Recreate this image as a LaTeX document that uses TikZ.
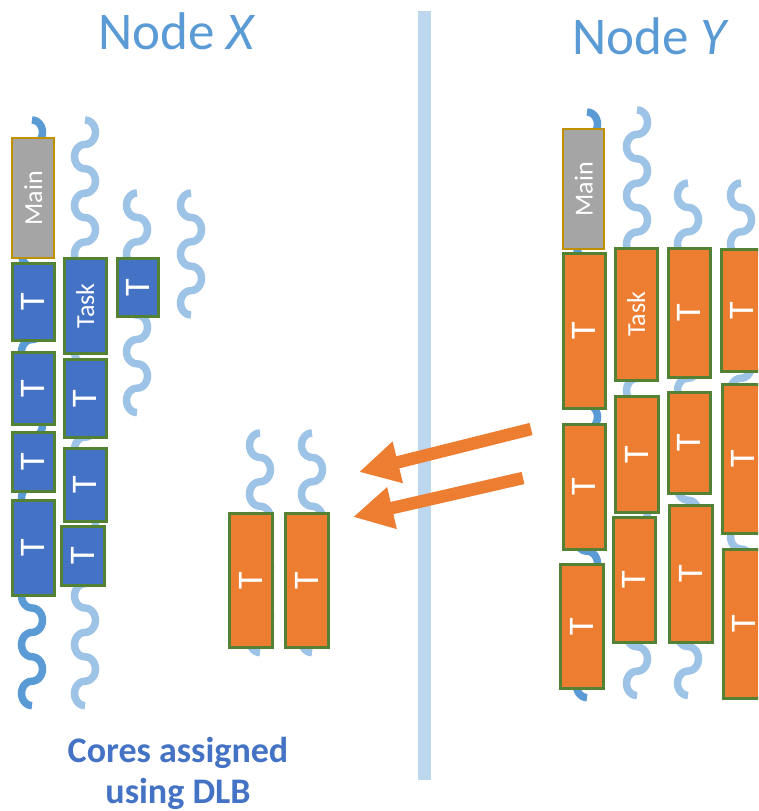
\documentclass[tikz,border=0pt]{standalone}
\usepackage{fontspec}
\setmainfont{Carlito}
\usepackage{graphicx}
\usetikzlibrary{arrows.meta}

\definecolor{boxBlue}{HTML}{4472C4}
\definecolor{boxOrange}{HTML}{ED7D31}
\definecolor{edgeGreen}{HTML}{548235}
\definecolor{mainGray}{HTML}{A5A5A5}
\definecolor{mainEdge}{HTML}{BF9000}
\definecolor{threadDark}{HTML}{5B9BD5}
\definecolor{threadLight}{HTML}{9DC3E6}
\definecolor{barBlue}{HTML}{BDD7EE}
\definecolor{titleBlue}{HTML}{5B9BD5}
\definecolor{captionBlue}{HTML}{4472C4}

% wave geometry: horizontal swing and height of one half-wave
\def\thrA{10.5}
\def\thrH{24.4}
% \thread{centre x}{top y}{half-waves}{first side +1/-1}{colour}
\newcommand\thread[5]{%
  \pgfmathsetmacro\thrEnd{#3*180}%
  \pgfmathtruncatemacro\thrSamp{#3*14+1}%
  \draw[thread,#5] plot[domain=0:\thrEnd, samples=\thrSamp, variable=\t]
    ({#1+#4*\thrA*sin(\t)}, {#2+\thrH*floor(\t/180)+0.5*\thrH*(1-cos(mod(\t,180)))});%
}
\newcommand\Tlbl{\rotatebox{90}{\fontsize{36}{36}\selectfont T}}
\newcommand\smallLbl[1]{\rotatebox{90}{\fontsize{26}{26}\selectfont #1}}

\begin{document}
\begin{tikzpicture}[x=1pt,y=-1pt,
  thread/.style={line width=7.5pt, line cap=butt},
  task/.style={draw=edgeGreen, line width=2.6pt, inner sep=0pt, anchor=north west, text=white},
  blue task/.style={task, fill=boxBlue},
  orange task/.style={task, fill=boxOrange},
  main task/.style={draw=mainEdge, line width=2.4pt, fill=mainGray, inner sep=0pt, anchor=north west, text=white},
  migrate/.style={draw=boxOrange, line width=12.5pt, -{Triangle[length=40pt 0, width=40pt 0]}},
  title/.style={inner sep=0pt, text=titleBlue, font=\fontsize{53}{53}\selectfont, anchor=base west},
  caption/.style={inner sep=0pt, text=captionBlue, align=center, font=\fontsize{36}{41}\selectfont\bfseries}
]
\useasboundingbox (0,0) rectangle (758,811);
\clip (0,0) rectangle (758,811);
\fill[white] (0,0) rectangle (758,811);

% divider between the two nodes
\fill[barBlue] (418,11) rectangle (431,780);

% threads of node X
\thread{32}{120}{24}{1}{threadDark}
\thread{85}{120}{24}{1}{threadLight}
\thread{137}{193}{9}{-1}{threadLight}
\thread{191}{193}{5}{-1}{threadLight}
% threads that received the moved tasks
\thread{260}{433}{9}{-1}{threadLight}
\thread{312}{433}{9}{-1}{threadLight}
% threads of node Y
\thread{587}{112}{24}{1}{threadDark}
\thread{637}{110}{24}{1}{threadLight}
\thread{688}{183}{21}{-1}{threadLight}
\thread{741}{183}{21}{-1}{threadLight}

% node X tasks
\node[main task, minimum width=42pt, minimum height=120pt] (mainX) at (11,137) {\smallLbl{Main}};
\node[blue task, minimum width=42pt, minimum height=77pt] (x1a) at (11,262) {\Tlbl};
\node[blue task, minimum width=42pt, minimum height=72pt] (x1b) at (11,351) {\Tlbl};
\node[blue task, minimum width=42pt, minimum height=59pt] (x1c) at (11,431) {\Tlbl};
\node[blue task, minimum width=42pt, minimum height=95pt] (x1d) at (11,499) {\Tlbl};
\node[blue task, minimum width=42pt, minimum height=95pt] (x2a) at (63,257) {\smallLbl{Task}};
\node[blue task, minimum width=42pt, minimum height=78pt] (x2b) at (63,358) {\Tlbl};
\node[blue task, minimum width=42pt, minimum height=73pt] (x2c) at (63,447) {\Tlbl};
\node[blue task, minimum width=43pt, minimum height=59pt] (x2d) at (60,525) {\Tlbl};
\node[blue task, minimum width=41pt, minimum height=58pt] (x3a) at (116,257) {\Tlbl};

% tasks moved over from node Y
\node[orange task, minimum width=43pt, minimum height=134pt] (m1) at (228,512) {\Tlbl};
\node[orange task, minimum width=43pt, minimum height=134pt] (m2) at (284,512) {\Tlbl};

% node Y tasks
\node[main task, minimum width=41pt, minimum height=120pt] (mainY) at (562,128) {\smallLbl{Main}};
\node[orange task, minimum width=42pt, minimum height=155pt] (y1a) at (562,252) {\Tlbl};
\node[orange task, minimum width=42pt, minimum height=125pt] (y1b) at (562,423) {\Tlbl};
\node[orange task, minimum width=43pt, minimum height=124pt] (y1c) at (559,563) {\Tlbl};
\node[orange task, minimum width=42pt, minimum height=132pt] (y2a) at (614,247) {\smallLbl{Task}};
\node[orange task, minimum width=43pt, minimum height=116pt] (y2b) at (614,395) {\Tlbl};
\node[orange task, minimum width=42pt, minimum height=125pt] (y2c) at (612,516) {\Tlbl};
\node[orange task, minimum width=42pt, minimum height=129pt] (y3a) at (667,247) {\Tlbl};
\node[orange task, minimum width=42pt, minimum height=101pt] (y3b) at (667,391) {\Tlbl};
\node[orange task, minimum width=43pt, minimum height=137pt] (y3c) at (668,504) {\Tlbl};
\node[orange task, minimum width=42pt, minimum height=122pt] (y4a) at (720,248) {\Tlbl};
\node[orange task, minimum width=42pt, minimum height=149pt] (y4b) at (721,383) {\Tlbl};
\node[orange task, minimum width=42pt, minimum height=149pt] (y4c) at (722,548) {\Tlbl};

% migration arrows
\coordinate (a1s) at (531,429);
\coordinate (a1e) at (359,472);
\coordinate (a2s) at (523,478);
\coordinate (a2e) at (353,517);
\draw[migrate] (a1s) -- (a1e);
\draw[migrate] (a2s) -- (a2e);

% headings and caption
\node[title] (tX) at (98,49) {Node \textit{X}};
\node[title] (tY) at (572,54) {Node \textit{Y}};
\node[caption, anchor=base] (cap) at (178,803) {Cores assigned\\using DLB};
\end{tikzpicture}
\end{document}
